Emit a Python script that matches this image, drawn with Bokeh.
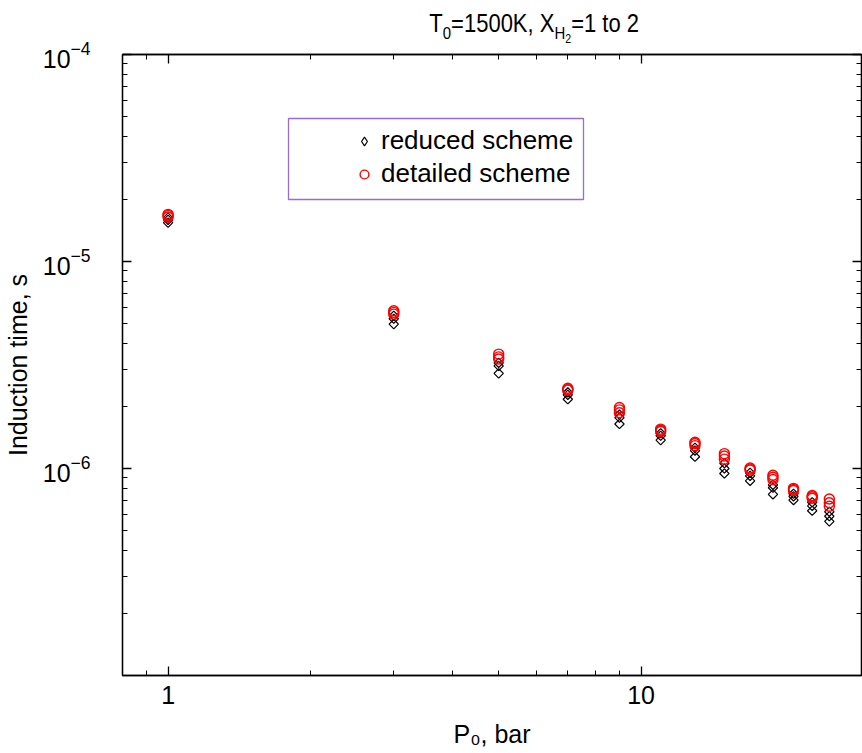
import numpy as np
from bokeh.plotting import figure
from bokeh.layouts import column
from bokeh.models import (LogAxis, FixedTicker, LogTickFormatter, BasicTickFormatter,
                          Range1d, Legend, LegendItem, BoxAnnotation, Div)
from bokeh.embed import file_html
from bokeh.resources import INLINE

# ---------------- data ----------------
pressure_bar = [1, 3, 5, 7, 9, 11, 13, 15, 17, 19, 21, 23, 25]

detailed_a = [1.69e-5, 5.78e-6, 3.57e-6, 2.44e-6, 1.97e-6, 1.55e-6, 1.34e-6,
              1.18e-6, 1.005e-6, 9.27e-7, 8.02e-7, 7.41e-7, 7.12e-7]
detailed_b = [1.67e-5, 5.68e-6, 3.46e-6, 2.41e-6, 1.92e-6, 1.53e-6, 1.32e-6,
              1.15e-6, 9.93e-7, 9.07e-7, 7.93e-7, 7.30e-7, 6.83e-7]
detailed_c = [1.64e-5, 5.57e-6, 3.38e-6, 2.39e-6, 1.86e-6, 1.51e-6, 1.29e-6,
              1.11e-6, 9.82e-7, 8.85e-7, 7.83e-7, 7.18e-7, 6.57e-7]

reduced_a = [1.63e-5, 5.47e-6, 3.24e-6, 2.33e-6, 1.82e-6, 1.48e-6, 1.26e-6,
             1.06e-6, 9.53e-7, 8.34e-7, 7.55e-7, 6.87e-7, 6.18e-7]
reduced_b = [1.59e-5, 5.29e-6, 3.13e-6, 2.27e-6, 1.76e-6, 1.44e-6, 1.22e-6,
             1.00e-6, 9.22e-7, 8.07e-7, 7.34e-7, 6.60e-7, 5.88e-7]
reduced_c = [1.54e-5, 4.98e-6, 2.88e-6, 2.16e-6, 1.64e-6, 1.37e-6, 1.14e-6,
             9.46e-7, 8.72e-7, 7.50e-7, 7.04e-7, 6.25e-7, 5.55e-7]

x_major_ticks = [1, 10]
x_tick_labels = ["1", "10"]
x_minor_ticks = [0.9, 2, 3, 4, 5, 6, 7, 8, 9]
y_major_ticks = [1e-6, 1e-5, 1e-4]
y_minor_ticks = [k * 10.0 ** e for e in (-7, -6, -5) for k in range(2, 10)]

series_labels = ["reduced scheme", "detailed scheme"]
x_label = "P\u2080, bar"
y_label = "Induction time, s"

FONT = "Liberation Sans"
FS = "25px"

# ---------------- title (HTML text with sub/sub-subscripts) ----------------
DIV_H = 28
title_html = (
    '<div style="font-family:\'Liberation Sans\',Arial,sans-serif; font-size:25px; '
    'color:#000; line-height:25px; padding-left:415px; padding-top:11px; '
    'white-space:nowrap;">'
    '<span style="display:inline-block; transform:scaleX(0.88); transform-origin:50% 50%;">'
    'T<span style="font-size:17px; position:relative; top:7px;">0</span>=1500K, X'
    '<span style="font-size:17px; position:relative; top:7px;">H'
    '<span style="font-size:12px; position:relative; top:4px;">2</span></span>=1 to 2'
    '</span></div>'
)
title_div = Div(text=title_html, width=862, height=DIV_H, margin=0,
                styles={"overflow": "visible", "z-index": "2"})

# ---------------- figure ----------------
W, H = 862, 752 - DIV_H
BL, BR, BT = 122, 1, 54 - DIV_H
FRAME_H = 621
BB = H - BT - FRAME_H
p = figure(width=W, height=H, x_axis_type="log", y_axis_type="log",
           x_range=Range1d(0.801, 29.24), y_range=Range1d(1e-7, 1e-4),
           output_backend="svg", toolbar_location=None, title=None,
           min_border_left=BL, min_border_right=BR,
           min_border_top=BT, min_border_bottom=BB, margin=0)
p.xgrid.visible = False
p.ygrid.visible = False
p.outline_line_color = "black"
p.outline_line_width = 1.3
p.background_fill_color = "white"
p.border_fill_alpha = 0


def style_axis(ax, show_labels):
    ax.axis_line_color = "black"
    ax.axis_line_width = 1.3
    ax.major_tick_line_color = "black"
    ax.minor_tick_line_color = "black"
    ax.major_tick_line_width = 1.3
    ax.minor_tick_line_width = 1.0
    ax.major_tick_in = 9
    ax.major_tick_out = 0
    ax.minor_tick_in = 5
    ax.minor_tick_out = 0
    ax.major_label_text_font = FONT
    ax.axis_label_text_font = FONT
    ax.axis_label_text_font_style = "normal"
    ax.axis_label_text_color = "black"
    ax.major_label_text_color = "black"
    if show_labels:
        ax.major_label_text_font_size = FS
        ax.axis_label_text_font_size = FS
    else:
        ax.major_label_text_font_size = "0px"
        ax.major_label_standoff = 0


xa = p.xaxis[0]
style_axis(xa, True)
xa.ticker = FixedTicker(ticks=x_major_ticks, minor_ticks=x_minor_ticks)
xa.formatter = BasicTickFormatter()
xa.major_label_overrides = {t: s for t, s in zip(x_major_ticks, x_tick_labels)}
xa.major_label_standoff = 10
xa.axis_label = x_label
xa.axis_label_standoff = 13

ya = p.yaxis[0]
style_axis(ya, True)
ya.ticker = FixedTicker(ticks=y_major_ticks, minor_ticks=y_minor_ticks)
ya.formatter = LogTickFormatter()
ya.major_label_standoff = 32
ya.axis_label = y_label
ya.axis_label_standoff = 8

top_ax = LogAxis(ticker=FixedTicker(ticks=x_major_ticks, minor_ticks=x_minor_ticks),
                 formatter=BasicTickFormatter(),
                 major_label_overrides={t: "" for t in x_major_ticks})
style_axis(top_ax, False)
p.add_layout(top_ax, "above")

right_ax = LogAxis(ticker=FixedTicker(ticks=y_major_ticks, minor_ticks=y_minor_ticks),
                   formatter=BasicTickFormatter(),
                   major_label_overrides={t: "" for t in y_major_ticks})
style_axis(right_ax, False)
p.add_layout(right_ax, "right")

# ---------------- data marks ----------------
red_rs = []
for ys in (reduced_a, reduced_b, reduced_c):
    red_rs.append(p.scatter(pressure_bar, ys, marker="square", angle=np.pi / 4,
                            size=6.6, fill_color=None, line_color="black",
                            line_width=1.2))
det_rs = []
for ys in (detailed_a, detailed_b, detailed_c):
    det_rs.append(p.scatter(pressure_bar, ys, marker="circle", size=10,
                            fill_color=None, line_color="#ff0000", line_width=1.4))

# legend-only key glyph (a single NaN point, never drawn in the plot area)
reduced_key = p.scatter([np.nan], [np.nan], marker="diamond", size=10,
                        fill_color=None, line_color="black", line_width=1.2)

# ---------------- legend ----------------
legend_box = BoxAnnotation(left=166, right=461, bottom=476, top=557,
                           left_units="screen", right_units="screen",
                           top_units="screen", bottom_units="screen",
                           fill_alpha=0, line_color="#9a6ad6", line_alpha=1.0,
                           line_width=1.3)
p.add_layout(legend_box)

legend = Legend(items=[LegendItem(label=series_labels[0], renderers=[reduced_key]),
                       LegendItem(label=series_labels[1], renderers=[det_rs[0]])],
                location=(221, 476), padding=10, spacing=2,
                glyph_width=22, glyph_height=22, label_standoff=6,
                label_text_font=FONT, label_text_font_size="26px",
                label_text_color="black",
                border_line_alpha=0, background_fill_alpha=0)
p.add_layout(legend)

layout = column(title_div, p, spacing=0, margin=0)
open("out.html", "w").write(file_html(layout, INLINE))
